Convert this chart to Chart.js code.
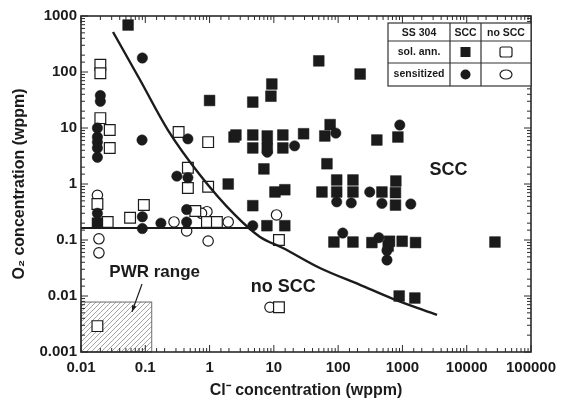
<!DOCTYPE html>
<html><head><meta charset="UTF-8"><title>SS 304 SCC map</title>
<script src="https://cdn.jsdelivr.net/npm/chart.js"></script>
<style>
  html, body { margin: 0; padding: 0; background: #fff; }
</style></head><body>
<canvas id="c" width="566" height="402"></canvas>
<script>
// --- data (Cl- wppm, O2 wppm) ---
const xTickLabels = ['0.01', '0.1', '1', '10', '100', '1000', '10000', '100000'];
const yTickLabels = ['0.001', '0.01', '0.1', '1', '10', '100', '1000'];

// solution annealed, SCC (filled squares)
const annSCC = [
  [0.054, 690], [1.0, 31], [2.4, 6.9], [1.95, 1.0], [2.57, 7.5], [4.7, 7.5], [7.9, 7.2], [7.9, 4.4],
  [4.7, 4.4], [13.8, 7.5], [13.8, 4.4], [29, 7.9], [62, 7.2], [75, 11.5], [400, 6.1], [850, 6.9],
  [9.3, 61], [9.0, 37], [4.7, 29], [50, 158], [220, 92], [7.0, 1.86], [67, 2.3], [10.4, 0.72],
  [14.8, 0.79], [4.7, 0.41], [7.8, 0.18], [14.8, 0.18], [95, 1.18], [170, 1.18], [790, 1.13],
  [56, 0.72], [95, 0.72], [170, 0.72], [480, 0.72], [780, 0.70], [780, 0.42], [86, 0.092],
  [170, 0.092], [335, 0.09], [630, 0.095], [990, 0.095], [1600, 0.09], [27500, 0.092],
  [890, 0.01], [1560, 0.0092], [0.018, 0.2], [600, 0.078]
];
// solution annealed, no SCC (open squares)
const annNoSCC = [
  [0.02, 135], [0.02, 95], [0.02, 15], [0.028, 9.2], [0.028, 4.4], [0.33, 8.5], [0.95, 5.6],
  [0.46, 1.95], [0.46, 0.85], [0.95, 0.89], [0.018, 0.44], [0.026, 0.21], [0.058, 0.25],
  [0.095, 0.42], [0.6, 0.33], [0.91, 0.21], [1.3, 0.21], [12, 0.1], [12, 0.0063], [0.018, 0.0029]
];
// sensitized, SCC (filled circles)
const sensSCC = [
  [0.02, 38], [0.02, 30], [0.018, 10], [0.018, 6.9], [0.018, 5.6], [0.018, 4.4], [0.018, 3.0],
  [0.09, 178], [0.089, 6.1], [0.46, 6.4], [0.31, 1.38], [0.46, 1.3], [0.018, 0.30], [0.09, 0.26],
  [0.09, 0.16], [0.175, 0.2], [0.44, 0.35], [0.44, 0.21], [7.9, 5.5], [7.9, 3.7], [21, 4.8],
  [92, 8.1], [910, 11.3], [4.7, 0.18], [310, 0.72], [95, 0.48], [160, 0.46], [480, 0.45],
  [1350, 0.44], [118, 0.133], [430, 0.11], [575, 0.065], [575, 0.044]
];
// sensitized, no SCC (open circles)
const sensNoSCC = [
  [0.018, 0.63], [0.28, 0.21], [0.44, 0.145], [0.91, 0.32], [1.95, 0.21], [0.019, 0.105],
  [0.019, 0.059], [0.95, 0.096], [11, 0.28], [8.7, 0.0063], [0.75, 0.3]
];

// boundary lines
const curveX = [0.0315, 0.083, 0.225, 0.71, 2.48, 6.1, 13.8, 52, 219, 710, 3450];
const curveY = [518, 72, 9.2, 1.45, 0.28, 0.113, 0.072, 0.0316, 0.0158, 0.0089, 0.0046];
const plateauX = [0.01, 4.0];
const plateauY = [0.164, 0.164];

// PWR range box and arrow
const pwrX = [0.01, 0.126];
const pwrY = [0.001, 0.0078];
const pwrArrowX = [0.089, 0.062];
const pwrArrowY = [0.0164, 0.0052];

const notes = [
  { text: 'SCC', x: 5200, y: 1.8, size: 18 },
  { text: 'no SCC', x: 14, y: 0.0145, size: 18 },
  { text: 'PWR range', x: 0.14, y: 0.027, size: 17 }
];
const legendHead = ['SS 304', 'SCC', 'no SCC'];
const legendRows = ['sol. ann.', 'sensitized'];

const FONT = '"Liberation Sans", Arial, sans-serif';
const INK = '#1b1b1b';

const toPts = arr => arr.map(p => ({ x: p[0], y: p[1] }));
const isDecade = v => Math.abs(Math.log10(v) - Math.round(Math.log10(v))) < 1e-6;
const labelFor = (list, v) => list.find(l => Math.abs(Math.log10(+l) - Math.log10(v)) < 1e-6) || '';

function marker(ctx, kind, cx, cy, w, h) {
  ctx.beginPath();
  if (kind === 'sq' || kind === 'osq') {
    if (ctx.roundRect && kind === 'osq') ctx.roundRect(cx - w / 2, cy - h / 2, w, h, 2);
    else ctx.rect(cx - w / 2, cy - h / 2, w, h);
  } else {
    ctx.ellipse(cx, cy, w / 2, h / 2, 0, 0, Math.PI * 2);
  }
  if (kind === 'sq' || kind === 'ci') { ctx.fillStyle = INK; ctx.fill(); }
  else { ctx.fillStyle = '#fff'; ctx.fill(); ctx.strokeStyle = INK; ctx.lineWidth = 1.2; ctx.stroke(); }
}

const extras = {
  id: 'extras',
  beforeDatasetsDraw(chart) {
    const { ctx, scales: { x, y } } = chart;
    const l = x.getPixelForValue(pwrX[0]), r = x.getPixelForValue(pwrX[1]);
    const t = y.getPixelForValue(pwrY[1]), b = y.getPixelForValue(pwrY[0]);
    ctx.save();
    ctx.beginPath(); ctx.rect(l, t, r - l, b - t); ctx.clip();
    ctx.strokeStyle = '#8c8c8c'; ctx.lineWidth = 0.8;
    ctx.beginPath();
    for (let k = -(b - t); k < (r - l); k += 5) { ctx.moveTo(l + k, b); ctx.lineTo(l + k + (b - t), t); }
    ctx.stroke();
    ctx.restore();
    ctx.save(); ctx.strokeStyle = '#6a6a6a'; ctx.lineWidth = 1; ctx.strokeRect(l, t, r - l, b - t); ctx.restore();
  },
  afterDatasetsDraw(chart) {
    const { ctx, chartArea: a, scales: { x, y } } = chart;
    ctx.save();
    // frame
    ctx.strokeStyle = '#2a2a2a'; ctx.lineWidth = 1.6;
    ctx.strokeRect(a.left, a.top, a.right - a.left, a.bottom - a.top);
    // inside ticks on all four sides
    ctx.lineWidth = 1;
    ctx.beginPath();
    x.ticks.forEach(tk => {
      const px = x.getPixelForValue(tk.value), len = isDecade(tk.value) ? 7 : 4;
      ctx.moveTo(px, a.bottom); ctx.lineTo(px, a.bottom - len);
      ctx.moveTo(px, a.top); ctx.lineTo(px, a.top + len);
    });
    y.ticks.forEach(tk => {
      const py = y.getPixelForValue(tk.value), len = isDecade(tk.value) ? 7 : 4;
      ctx.moveTo(a.left, py); ctx.lineTo(a.left + len, py);
      ctx.moveTo(a.right, py); ctx.lineTo(a.right - len, py);
    });
    ctx.stroke();

    // text notes
    ctx.fillStyle = INK; ctx.textAlign = 'center'; ctx.textBaseline = 'middle';
    notes.forEach(n => {
      ctx.font = `bold ${n.size}px ${FONT}`;
      ctx.fillText(n.text, x.getPixelForValue(n.x), y.getPixelForValue(n.y));
    });

    // arrow to PWR box
    const x0 = x.getPixelForValue(pwrArrowX[0]), y0 = y.getPixelForValue(pwrArrowY[0]);
    const x1 = x.getPixelForValue(pwrArrowX[1]), y1 = y.getPixelForValue(pwrArrowY[1]);
    ctx.strokeStyle = INK; ctx.lineWidth = 1.2;
    ctx.beginPath(); ctx.moveTo(x0, y0); ctx.lineTo(x1, y1); ctx.stroke();
    const ang = Math.atan2(y1 - y0, x1 - x0);
    ctx.beginPath();
    ctx.moveTo(x1, y1);
    ctx.lineTo(x1 - 7 * Math.cos(ang - 0.35), y1 - 7 * Math.sin(ang - 0.35));
    ctx.lineTo(x1 - 7 * Math.cos(ang + 0.35), y1 - 7 * Math.sin(ang + 0.35));
    ctx.closePath(); ctx.fill();

    // legend table, top right
    const colW = [62, 31, 50], rowH = [18, 22, 23];
    const tw = colW.reduce((s, v) => s + v, 0), th = rowH.reduce((s, v) => s + v, 0);
    const tl = a.right - tw, tt = a.top + 7;
    ctx.fillStyle = '#fff'; ctx.fillRect(tl, tt, tw, th);
    ctx.strokeStyle = '#333'; ctx.lineWidth = 1.2;
    ctx.strokeRect(tl, tt, tw, th);
    ctx.beginPath();
    let cx = tl;
    colW.slice(0, -1).forEach(w => { cx += w; ctx.moveTo(cx, tt); ctx.lineTo(cx, tt + th); });
    let cy = tt;
    rowH.slice(0, -1).forEach(h => { cy += h; ctx.moveTo(tl, cy); ctx.lineTo(tl + tw, cy); });
    ctx.stroke();
    const colC = [tl + colW[0] / 2, tl + colW[0] + colW[1] / 2, tl + colW[0] + colW[1] + colW[2] / 2];
    const rowC = [tt + rowH[0] / 2, tt + rowH[0] + rowH[1] / 2, tt + rowH[0] + rowH[1] + rowH[2] / 2];
    ctx.fillStyle = INK; ctx.font = `bold 10.5px ${FONT}`;
    legendHead.forEach((h, i) => ctx.fillText(h, colC[i], rowC[0] + 1));
    legendRows.forEach((h, i) => ctx.fillText(h, colC[0], rowC[i + 1]));
    marker(ctx, 'sq', colC[1], rowC[1], 10, 10);
    marker(ctx, 'osq', colC[2], rowC[1], 12, 10);
    marker(ctx, 'ci', colC[1], rowC[2], 10, 10);
    marker(ctx, 'oci', colC[2], rowC[2], 12, 9);
    ctx.restore();
  }
};

const ptStyle = (style, filled, r) => ({
  pointStyle: style, pointRadius: r, pointHoverRadius: r,
  backgroundColor: filled ? INK : '#fff', borderColor: INK, borderWidth: filled ? 0.5 : 1.2,
  showLine: false
});

new Chart(document.getElementById('c'), {
  type: 'scatter',
  data: {
    datasets: [
      { label: 'boundary', data: curveX.map((v, i) => ({ x: v, y: curveY[i] })), showLine: true,
        pointRadius: 0, borderColor: INK, borderWidth: 2.4, cubicInterpolationMode: 'monotone', order: 0 },
      { label: 'plateau', data: plateauX.map((v, i) => ({ x: v, y: plateauY[i] })), showLine: true,
        pointRadius: 0, borderColor: INK, borderWidth: 2, order: 0 },
      { label: 'sol. ann. no SCC', data: toPts(annNoSCC), ...ptStyle('rect', false, 7.6), order: 3 },
      { label: 'sensitized no SCC', data: toPts(sensNoSCC), ...ptStyle('circle', false, 5.2), order: 4 },
      { label: 'sol. ann. SCC', data: toPts(annSCC), ...ptStyle('rect', true, 7.6), order: 2 },
      { label: 'sensitized SCC', data: toPts(sensSCC), ...ptStyle('circle', true, 5.2), order: 1 }
    ]
  },
  options: {
    responsive: false,
    animation: false,
    events: [],
    layout: { padding: { top: 16, right: 35, left: 0, bottom: 0 } },
    plugins: { legend: { display: false }, tooltip: { enabled: false } },
    scales: {
      x: {
        type: 'logarithmic', min: 0.01, max: 100000,
        afterFit: s => { s.height = 50; },
        border: { display: false },
        grid: { display: false, drawTicks: false },
        ticks: {
          autoSkip: false, maxRotation: 0, padding: 7, color: INK,
          font: { family: FONT, size: 15, weight: 'bold' },
          callback: v => labelFor(xTickLabels, v)
        },
        title: {
          display: true, text: 'Cl\u207B concentration (wppm)', color: INK,
          font: { family: FONT, size: 16, weight: 'bold' }, padding: { top: 0, bottom: 2 }
        }
      },
      y: {
        type: 'logarithmic', min: 0.001, max: 1000,
        afterFit: s => { s.width = 81; },
        border: { display: false },
        grid: { display: false, drawTicks: false },
        ticks: {
          autoSkip: false, padding: 4, color: INK,
          font: { family: FONT, size: 15, weight: 'bold' },
          callback: v => labelFor(yTickLabels, v)
        },
        title: {
          display: true, text: 'O\u2082 concentration (wppm)', color: INK,
          font: { family: FONT, size: 16, weight: 'bold' }, padding: { top: 10, bottom: 0 }
        }
      }
    }
  },
  plugins: [extras]
});
</script>
</body></html>
